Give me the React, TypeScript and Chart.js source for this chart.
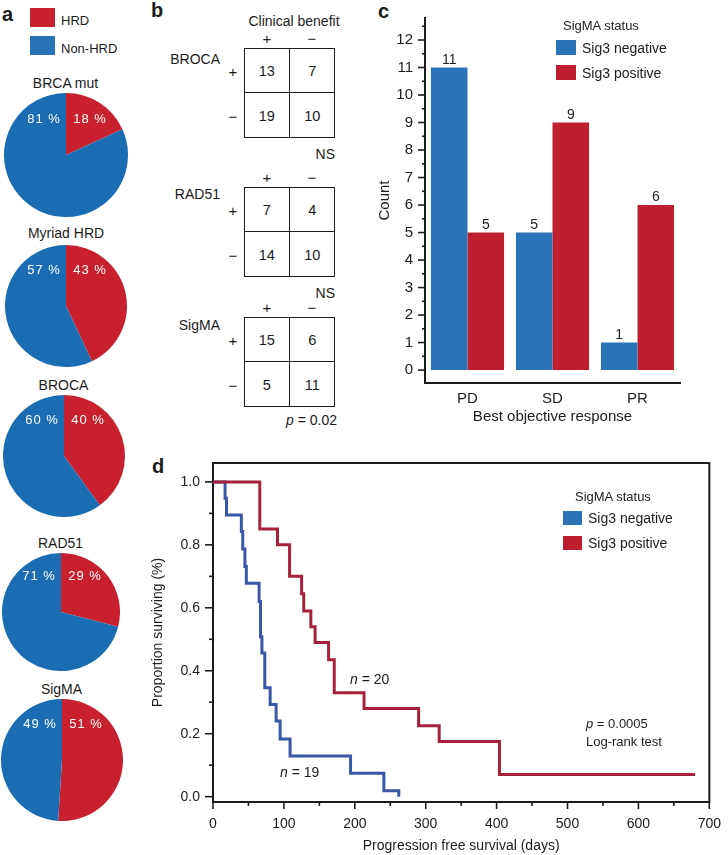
import React, { useEffect, useRef } from "react";
import { Chart, registerables } from "chart.js";

Chart.register(...registerables);

const FONT = '"Liberation Sans", Arial, Helvetica, sans-serif';
const INK = "#1c1c1c";

// ---------------- data ----------------
// a: HRD calls per assay (% of samples)
const pieAssays = ["BRCA mut", "Myriad HRD", "BROCA", "RAD51", "SigMA"];
const hrdPercent = [18, 43, 40, 29, 51];
const nonHrdPercent = [81, 57, 60, 71, 49];
const pieLegend = ["HRD", "Non-HRD"];

// b: contingency tables (rows: assay +/−, cols: clinical benefit +/−)
const tableAssays = ["BROCA", "RAD51", "SigMA"];
const brocaTable = [[13, 7], [19, 10]];
const rad51Table = [[7, 4], [14, 10]];
const sigmaTable = [[15, 6], [5, 11]];
const tableSignificance = ["NS", "NS", "p = 0.02"];

// c: best objective response by SigMA status
const responseCategories = ["PD", "SD", "PR"];
const sig3NegativeCounts = [11, 5, 1];
const sig3PositiveCounts = [5, 9, 6];
const seriesNames = ["Sig3 negative", "Sig3 positive"];

// d: Kaplan–Meier progression free survival
const posDays = [0, 66, 91, 108, 125, 128, 138, 144, 163, 171, 213, 290, 319, 404, 680];
const posSurv = [1.0, 0.85, 0.8, 0.7, 0.645, 0.59, 0.54, 0.49, 0.435, 0.33, 0.28, 0.225, 0.175, 0.07, 0.07];
const negDays = [0, 17, 19, 40, 42, 45, 47, 65, 67, 69, 73, 80.6, 89, 94.7, 108.7, 194, 241, 262];
const negSurv = [1.0, 0.948, 0.895, 0.842, 0.787, 0.731, 0.678, 0.62, 0.508, 0.456, 0.346, 0.293, 0.24, 0.183, 0.129, 0.074, 0.019, 0];

// ---------------- colours ----------------
const PIE_RED = "#c8202f";
const PIE_BLUE = "#1b6db3";
const BAR_BLUE = "#2a73b8";
const BAR_RED = "#be1e2d";
const KM_BLUE = "#3a56a6";
const KM_RED = "#a6223c";

// ---------------- helpers ----------------
type TxtProps = {
  x: number; y: number; a?: "left" | "center" | "right"; size?: number;
  bold?: boolean; italic?: boolean; spacing?: string; color?: string; children: React.ReactNode;
};
function Txt({ x, y, a = "left", size = 14, bold, italic, spacing, color, children }: TxtProps) {
  const tx = a === "center" ? "-50%" : a === "right" ? "-100%" : "0";
  return (
    <div
      style={{
        position: "absolute", left: x, top: y, transform: `translate(${tx}, -50%)`,
        fontSize: size, fontWeight: bold ? 700 : 400, fontStyle: italic ? "italic" : "normal",
        lineHeight: 1, whiteSpace: "nowrap", letterSpacing: spacing, color: color || INK,
      }}
    >
      {children}
    </div>
  );
}

function Box({ x, y, w, h, color }: { x: number; y: number; w: number; h: number; color: string }) {
  return <div style={{ position: "absolute", left: x, top: y, width: w, height: h, background: color }} />;
}

function ChartCanvas({ x, y, w, h, make }: { x: number; y: number; w: number; h: number; make: () => any }) {
  const ref = useRef<HTMLCanvasElement>(null);
  useEffect(() => {
    const chart = new Chart(ref.current as HTMLCanvasElement, make());
    return () => chart.destroy();
  }, []);
  return (
    <canvas ref={ref} width={w} height={h}
      style={{ position: "absolute", left: x, top: y, width: w, height: h }} />
  );
}

const tickMarks = (specs: { id: string; side: "left" | "bottom"; major: number; minor: number }[]) => ({
  id: "tickMarks",
  afterDraw(chart: any) {
    const ctx = chart.ctx;
    ctx.save();
    ctx.strokeStyle = INK;
    ctx.lineWidth = 1.6;
    for (const s of specs) {
      const scale = chart.scales[s.id];
      for (const t of scale.ticks) {
        const p = scale.getPixelForValue(t.value);
        const len = t.label !== "" ? s.major : s.minor;
        ctx.beginPath();
        if (s.side === "left") {
          ctx.moveTo(scale.right, p);
          ctx.lineTo(scale.right - len, p);
        } else {
          ctx.moveTo(p, scale.top);
          ctx.lineTo(p, scale.top + len);
        }
        ctx.stroke();
      }
    }
    ctx.restore();
  },
});

// ---------------- panel a: pies ----------------
const pieLabels = {
  id: "pieLabels",
  afterDraw(chart: any) {
    const arc = chart.getDatasetMeta(0).data[0];
    const vals = chart.data.datasets[0].data;
    const ctx = chart.ctx;
    ctx.save();
    ctx.fillStyle = "#ffffff";
    ctx.font = `13px ${FONT}`;
    (ctx as any).letterSpacing = "1px";
    ctx.textAlign = "center";
    ctx.textBaseline = "middle";
    ctx.fillText(`${vals[1]} %`, arc.x - 22, arc.y - 36);
    ctx.fillText(`${vals[0]} %`, arc.x + 24, arc.y - 36);
    ctx.restore();
  },
};

const pieGeom = [
  { cx: 65.5, cy: 155, r: 62, ty: 83 },
  { cx: 66, cy: 306, r: 61, ty: 233 },
  { cx: 63.5, cy: 456, r: 61, ty: 385 },
  { cx: 60.5, cy: 612, r: 59, ty: 543 },
  { cx: 61.5, cy: 760, r: 61, ty: 689 },
];

function makePie(i: number) {
  return () => ({
    type: "pie",
    data: {
      labels: pieLegend,
      datasets: [{
        data: [hrdPercent[i], nonHrdPercent[i]],
        backgroundColor: [PIE_RED, PIE_BLUE],
        borderWidth: 0,
        hoverBorderWidth: 0,
      }],
    },
    options: {
      responsive: false,
      animation: false,
      events: [],
      layout: { padding: 0 },
      plugins: { legend: { display: false }, tooltip: { enabled: false } },
    },
    plugins: [pieLabels],
  });
}

// ---------------- panel c: bars ----------------
const barValueLabels = {
  id: "barValueLabels",
  afterDatasetsDraw(chart: any) {
    const ctx = chart.ctx;
    ctx.save();
    ctx.fillStyle = INK;
    ctx.font = `14px ${FONT}`;
    ctx.textAlign = "center";
    ctx.textBaseline = "alphabetic";
    chart.data.datasets.forEach((ds: any, di: number) => {
      chart.getDatasetMeta(di).data.forEach((el: any, i: number) => {
        ctx.fillText(String(ds.data[i]), el.x, el.y - 4);
      });
    });
    ctx.restore();
  },
};

function makeBars() {
  return {
    type: "bar",
    data: {
      labels: responseCategories,
      datasets: [
        { label: seriesNames[0], data: sig3NegativeCounts, backgroundColor: BAR_BLUE, borderWidth: 0 },
        { label: seriesNames[1], data: sig3PositiveCounts, backgroundColor: BAR_RED, borderWidth: 0 },
      ],
    },
    options: {
      responsive: false,
      animation: false,
      events: [],
      layout: { padding: { left: 0, top: 18, right: 48, bottom: 0 } },
      datasets: { bar: { categoryPercentage: 0.86, barPercentage: 1 } },
      plugins: { legend: { display: false }, tooltip: { enabled: false } },
      scales: {
        x: {
          type: "category",
          offset: true,
          grid: { display: false, drawTicks: false },
          border: { display: true, color: INK, width: 2 },
          ticks: { color: INK, font: { family: FONT, size: 15 }, padding: 7 },
          title: { display: true, text: "Best objective response", color: INK, font: { family: FONT, size: 15 }, padding: { top: 0, bottom: 4 } },
          afterFit: (s: any) => { s.height = 47; },
        },
        y: {
          type: "linear",
          min: -0.47,
          max: 12.8,
          grid: { display: false, drawTicks: true, tickLength: 6 },
          border: { display: true, color: INK, width: 2 },
          ticks: {
            stepSize: 0.5,
            includeBounds: false,
            autoSkip: false,
            padding: 6,
            color: INK,
            font: { family: FONT, size: 15 },
            callback: (v: number) => (Math.abs(v - Math.round(v)) < 1e-6 ? String(Math.round(v)) : ""),
          },
          title: { display: true, text: "Count", color: INK, font: { family: FONT, size: 15 }, padding: { top: 6, bottom: 0 } },
          afterFit: (s: any) => { s.width = 55; },
        },
      },
    },
    plugins: [barValueLabels, tickMarks([{ id: "y", side: "left", major: 7, minor: 3 }])],
  };
}

// ---------------- panel d: KM ----------------
const frame = {
  id: "frame",
  beforeDatasetsDraw(chart: any) {
    const { left, top, right, bottom } = chart.chartArea;
    const ctx = chart.ctx;
    ctx.save();
    ctx.strokeStyle = INK;
    ctx.lineWidth = 2;
    ctx.strokeRect(left, top, right - left, bottom - top);
    ctx.restore();
  },
};

function makeKM() {
  return {
    type: "line",
    data: {
      datasets: [
        {
          label: seriesNames[1],
          data: posDays.map((d, i) => ({ x: d, y: posSurv[i] })),
          borderColor: KM_RED, borderWidth: 3, pointRadius: 0, stepped: "before", fill: false,
        },
        {
          label: seriesNames[0],
          data: negDays.map((d, i) => ({ x: d, y: negSurv[i] })),
          borderColor: KM_BLUE, borderWidth: 3, pointRadius: 0, stepped: "before", fill: false,
        },
      ],
    },
    options: {
      responsive: false,
      animation: false,
      events: [],
      layout: { padding: { left: 0, top: 23, right: 17, bottom: 0 } },
      plugins: { legend: { display: false }, tooltip: { enabled: false } },
      scales: {
        x: {
          type: "linear",
          min: 0,
          max: 700,
          grid: { display: false, drawTicks: true, tickLength: 7 },
          border: { display: false },
          ticks: {
            stepSize: 50, autoSkip: false, maxRotation: 0, padding: 7, color: INK,
            font: { family: FONT, size: 14 },
            callback: (v: number) => (Math.round(v) % 100 === 0 ? String(Math.round(v)) : ""),
          },
          title: { display: true, text: "Progression free survival (days)", color: INK, font: { family: FONT, size: 14 }, padding: { top: 0, bottom: 0 } },
          afterFit: (s: any) => { s.height = 53; },
        },
        y: {
          type: "linear",
          min: -0.017,
          max: 1.06,
          grid: { display: false, drawTicks: true, tickLength: 8 },
          border: { display: false },
          ticks: {
            stepSize: 0.1, includeBounds: false, autoSkip: false, padding: 5, color: INK,
            font: { family: FONT, size: 14 },
            callback: (v: number) => (Math.round(v * 10) % 2 === 0 ? v.toFixed(1) : ""),
          },
          title: { display: true, text: "Proportion surviving (%)", color: INK, font: { family: FONT, size: 14 }, padding: { top: 10, bottom: 0 } },
          afterFit: (s: any) => { s.width = 73; },
        },
      },
    },
    plugins: [frame, tickMarks([
      { id: "y", side: "left", major: 8, minor: 4 },
      { id: "x", side: "bottom", major: 7, minor: 4 },
    ])],
  };
}

// ---------------- panel b: tables ----------------
const tableData = [brocaTable, rad51Table, sigmaTable];
const tableTops = [48, 187, 317];
const assayLabelDy = [11, 7, 8];

function Significance({ text, x, y }: { text: string; x: number; y: number }) {
  if (text.startsWith("p ")) {
    return (
      <Txt x={x} y={y} a="right" size={14}>
        <span style={{ fontStyle: "italic" }}>p</span>{text.slice(1)}
      </Txt>
    );
  }
  return <Txt x={x} y={y} a="right" size={14}>{text}</Txt>;
}

function Table({ idx }: { idx: number }) {
  const top = tableTops[idx];
  const left = 244;
  const cw = 45.5;
  const ch = 45;
  const t = tableData[idx];
  const line = "1.6px solid " + INK;
  return (
    <>
      <div style={{ position: "absolute", left, top, width: cw * 2, height: ch * 2, border: line, boxSizing: "border-box" }} />
      <div style={{ position: "absolute", left: left + cw - 0.8, top, width: 0, height: ch * 2, borderLeft: line }} />
      <div style={{ position: "absolute", left, top: top + ch - 0.8, width: cw * 2, height: 0, borderTop: line }} />
      {t.map((row, r) =>
        row.map((v, c) => (
          <Txt key={`${r}-${c}`} x={left + cw * c + cw / 2} y={top + ch * r + ch / 2} a="center" size={14.5}>{v}</Txt>
        ))
      )}
      <Txt x={267} y={top - 10} a="center" size={15}>+</Txt>
      <Txt x={312} y={top - 10} a="center" size={15}>−</Txt>
      <Txt x={233} y={top + ch / 2} a="center" size={15}>+</Txt>
      <Txt x={233} y={top + ch * 1.5} a="center" size={15}>−</Txt>
      <Txt x={220} y={top + assayLabelDy[idx]} a="right" size={14}>{tableAssays[idx]}</Txt>
      <Significance text={tableSignificance[idx]} x={idx === 2 ? 337 : 335} y={top + ch * 2 + (idx === 2 ? 13 : 15.5)} />
    </>
  );
}

// ---------------- app ----------------
export default function App() {
  return (
    <div
      style={{
        position: "absolute", left: 0, top: 0, width: 728, height: 855, background: "#fff",
        fontFamily: FONT, color: INK, overflow: "hidden",
      }}
    >
      {/* panel letters */}
      <Txt x={2} y={14} size={20} bold>a</Txt>
      <Txt x={151} y={10} size={20} bold>b</Txt>
      <Txt x={378} y={11} size={20} bold>c</Txt>
      <Txt x={152} y={466} size={20} bold>d</Txt>

      {/* panel a legend */}
      <Box x={30} y={8} w={25} h={19} color={PIE_RED} />
      <Box x={30} y={36} w={25} h={19} color="#2a72b7" />
      <Txt x={61} y={20} size={13}>{pieLegend[0]}</Txt>
      <Txt x={61} y={48} size={13}>{pieLegend[1]}</Txt>

      {pieGeom.map((g, i) => (
        <React.Fragment key={i}>
          <Txt x={g.cx} y={g.ty} a="center" size={14}>{pieAssays[i]}</Txt>
          <ChartCanvas x={g.cx - g.r} y={g.cy - g.r} w={g.r * 2} h={g.r * 2} make={makePie(i)} />
        </React.Fragment>
      ))}

      {/* panel b */}
      <Txt x={294} y={21} a="center" size={14}>Clinical benefit</Txt>
      <Table idx={0} />
      <Table idx={1} />
      <Table idx={2} />

      {/* panel c */}
      <ChartCanvas x={370} y={0} w={358} h={430} make={makeBars} />
      <Txt x={563} y={25} size={13}>SigMA status</Txt>
      <Box x={556} y={40} w={20} h={15} color={BAR_BLUE} />
      <Box x={556} y={65} w={20} h={15} color={BAR_RED} />
      <Txt x={582} y={48} size={14}>{seriesNames[0]}</Txt>
      <Txt x={582} y={73} size={14}>{seriesNames[1]}</Txt>

      {/* panel d */}
      <ChartCanvas x={140} y={440} w={588} h={415} make={makeKM} />
      <Txt x={575} y={496} size={13}>SigMA status</Txt>
      <Box x={563} y={511} w={19} h={14} color={BAR_BLUE} />
      <Box x={563} y={536} w={19} h={14} color={BAR_RED} />
      <Txt x={588} y={518} size={14}>{seriesNames[0]}</Txt>
      <Txt x={588} y={543} size={14}>{seriesNames[1]}</Txt>
      <Txt x={350} y={679} size={14}><span style={{ fontStyle: "italic" }}>n</span> = 20</Txt>
      <Txt x={280} y={772} size={14}><span style={{ fontStyle: "italic" }}>n</span> = 19</Txt>
      <Txt x={586} y={723} size={13}><span style={{ fontStyle: "italic" }}>p</span> = 0.0005</Txt>
      <Txt x={586} y={741} size={13}>Log-rank test</Txt>
    </div>
  );
}
